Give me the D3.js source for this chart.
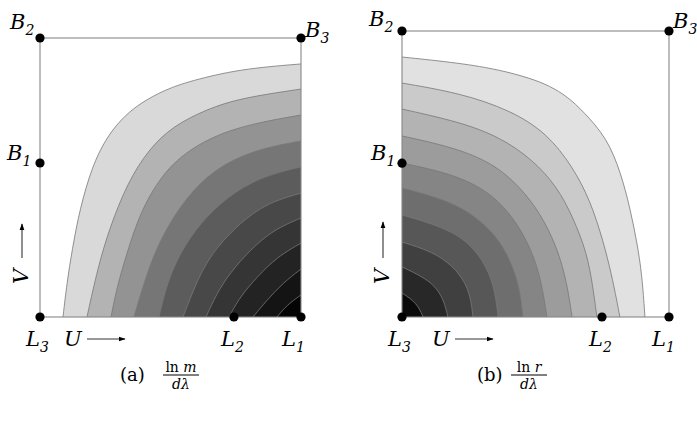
<!DOCTYPE html>
<html>
<head>
<meta charset="utf-8">
<script src="https://cdn.jsdelivr.net/npm/d3@7"></script>
<style>
  body { margin: 0; background: #fff; }
  text { font-family: "DejaVu Serif", "Liberation Serif", serif; }
</style>
</head>
<body>
<svg id="chart" width="697" height="422"></svg>
<script>
// contour lines of panel (a), in U,V units (0..100), from the bottom edge up to the right edge
const contoursA = [
  [[8.8, 0], [10.3, 12], [12.3, 24], [15.3, 39], [20, 54], [25, 63.5], [30.7, 70.6], [38, 76.5], [48, 81.5], [57.5, 84.6], [76.6, 88.9], [100, 90.7]],
  [[18, 0], [22.2, 17.9], [26.8, 32.3], [33.5, 48], [41.5, 60], [51, 68.5], [64, 74.5], [77, 78.5], [100, 81.7]],
  [[27.2, 0], [29.5, 10.8], [33.3, 22.9], [38.3, 37.3], [46, 50.2], [56.3, 59.9], [73.9, 68.1], [100, 72.4]],
  [[36, 0], [42.1, 19.4], [48.7, 32.3], [56.3, 43], [66.3, 52.7], [81.6, 59.9], [100, 63.1]],
  [[45.6, 0], [48.7, 12.2], [53.6, 22.9], [61.3, 33.7], [71.6, 43], [84.3, 50.2], [100, 53.8]],
  [[54.8, 0], [61.3, 15.8], [67.8, 25.1], [76.6, 33.7], [87, 40.9], [100, 44.4]],
  [[63.6, 0], [67.8, 8.6], [72.8, 15.8], [80.5, 24], [89.3, 31.2], [100, 35.5]],
  [[72.4, 0], [76.6, 7.2], [83.1, 14.3], [90.8, 21.5], [100, 26.5]],
  [[81.6, 0], [87, 6.1], [93.1, 12.2], [100, 17.2]],
  [[90.8, 0], [94.6, 4.3], [100, 7.9]],
];
const fillsA = ['#d9d9d9', '#b3b3b3', '#939393', '#767676', '#5c5c5c', '#484848', '#353535', '#232323', '#141414', '#040404'];

// contour lines of panel (b), from the left edge down to the bottom edge
const contoursB = [
  [[0, 90.9], [21.7, 88.8], [36.7, 86.4], [48, 83.5], [55.4, 80.8], [62, 77], [67.8, 72], [76.8, 62.6], [82, 50.3], [85.4, 38.1], [88, 26.2], [89.9, 14.7], [91, 0]],
  [[0, 81.8], [21.7, 78.3], [40.4, 72.4], [54.3, 64.3], [64, 52.4], [70.4, 40.9], [75.3, 26.9], [79, 12.9], [81.6, 0]],
  [[0, 72.7], [21.7, 68.2], [36.7, 62.9], [49.1, 54.9], [58.1, 45.5], [64, 35], [69.3, 22.4], [71.5, 10.5], [73, 0]],
  [[0, 63.3], [19.1, 59.4], [34.1, 53.8], [44.2, 45.5], [51.7, 36.4], [58.1, 24.5], [61.8, 11.9], [63.7, 0]],
  [[0, 53.8], [18, 50.3], [31.8, 44.4], [40.4, 36.4], [46.8, 26.9], [51.7, 15.4], [54.3, 0]],
  [[0, 45.1], [16.9, 40.9], [28.1, 35], [36.7, 26.9], [41.6, 17.5], [44.2, 9.4], [45.3, 0]],
  [[0, 35.7], [15.4, 31.5], [25.5, 25.9], [31.8, 17.5], [34.8, 9.4], [36, 0]],
  [[0, 26.2], [13.1, 22.4], [21.7, 15.4], [25.5, 8.4], [26.6, 0]],
  [[0, 17.5], [10.5, 12.9], [15.4, 7], [17.2, 0]],
  [[0, 8.4], [5.6, 4.9], [7.9, 0]],
];
const fillsB = ['#e1e1e1', '#cacaca', '#b3b3b3', '#9c9c9c', '#858585', '#6e6e6e', '#575757', '#404040', '#282828', '#0a0a0a'];

// marked points on the frame
const pointsA = [
  { name: 'B', sub: '2', u: 0, v: 100 }, { name: 'B', sub: '3', u: 100, v: 100 },
  { name: 'B', sub: '1', u: 0, v: 55.2 }, { name: 'L', sub: '3', u: 0, v: 0 },
  { name: 'L', sub: '2', u: 74.3, v: 0 }, { name: 'L', sub: '1', u: 100, v: 0 },
];
const pointsB = [
  { name: 'B', sub: '2', u: 0, v: 100 }, { name: 'B', sub: '3', u: 100, v: 100 },
  { name: 'B', sub: '1', u: 0, v: 53.8 }, { name: 'L', sub: '3', u: 0, v: 0 },
  { name: 'L', sub: '2', u: 74.9, v: 0 }, { name: 'L', sub: '1', u: 100, v: 0 },
];

const svg = d3.select('#chart');

// arrow head for the U / V arrows
svg.append('defs').append('marker')
  .attr('id', 'arr')
  .attr('viewBox', '0 0 10 10')
  .attr('refX', 9).attr('refY', 5)
  .attr('markerWidth', 7).attr('markerHeight', 7)
  .attr('markerUnits', 'userSpaceOnUse')
  .attr('orient', 'auto')
  .append('path')
  .attr('d', 'M0,1.5L10,5L0,8.5Z')
  .attr('fill', '#000');

function drawPanel(opt) {
  const x = d3.scaleLinear().domain([0, 100]).range([opt.left, opt.right]);
  const y = d3.scaleLinear().domain([0, 100]).range([opt.bottom, opt.top]);
  const g = svg.append('g');

  const line = d3.line()
    .x((d) => x(d[0]))
    .y((d) => y(d[1]))
    .curve(d3.curveBasis);

  // filled bands, outer first
  opt.contours.forEach((c, i) => {
    g.append('path')
      .attr('d', `${line(c)}L${x(opt.corner[0])},${y(opt.corner[1])}Z`)
      .attr('fill', opt.fills[i])
      .attr('stroke', 'none');
  });
  opt.contours.forEach((c) => {
    g.append('path')
      .attr('d', line(c))
      .attr('fill', 'none')
      .attr('stroke', '#777')
      .attr('stroke-width', 0.8);
  });

  // frame
  g.append('rect')
    .attr('x', x(0)).attr('y', y(100))
    .attr('width', x(100) - x(0)).attr('height', y(0) - y(100))
    .attr('fill', 'none')
    .attr('stroke', '#888')
    .attr('stroke-width', 1.1);

  // points + labels
  opt.points.forEach((p, i) => {
    const px = x(p.u);
    const py = y(p.v);
    g.append('circle').attr('cx', px).attr('cy', py).attr('r', 4.6).attr('fill', '#000');
    const off = opt.labelOffsets[i];
    const t = g.append('text')
      .attr('font-style', 'italic')
      .attr('x', px + off[0]).attr('y', py + off[1])
      .attr('font-size', 21)
      .attr('fill', '#000');
    t.append('tspan').text(p.name);
    t.append('tspan').attr('font-size', 14).attr('dy', 6).text(p.sub);
  });

  // U arrow
  g.append('text').attr('font-style', 'italic').attr('font-size', 21)
    .attr('x', opt.uLabel[0]).attr('y', opt.uLabel[1]).text('U');
  g.append('line')
    .attr('x1', opt.uArrow[0]).attr('x2', opt.uArrow[1])
    .attr('y1', opt.uArrow[2]).attr('y2', opt.uArrow[2])
    .attr('stroke', '#333').attr('stroke-width', 1.1)
    .attr('marker-end', 'url(#arr)');

  // V arrow
  g.append('text').attr('font-style', 'italic').attr('font-size', 21)
    .attr('transform', `translate(${opt.vLabel[0]},${opt.vLabel[1]}) rotate(-90)`)
    .text('V');
  g.append('line')
    .attr('x1', opt.vArrow[0]).attr('x2', opt.vArrow[0])
    .attr('y1', opt.vArrow[1]).attr('y2', opt.vArrow[2])
    .attr('stroke', '#333').attr('stroke-width', 1.1)
    .attr('marker-end', 'url(#arr)');

  // caption: (a) ln m / dλ
  const cap = g.append('g');
  cap.append('text').attr('font-size', 18)
    .attr('x', opt.caption[0]).attr('y', opt.caption[1] + 6).text(opt.tag);
  const fx = opt.caption[2];
  const num = cap.append('text').attr('font-size', 14)
    .attr('text-anchor', 'middle').attr('x', fx).attr('y', opt.caption[1] - 3);
  num.append('tspan').text('ln ');
  num.append('tspan').attr('font-style', 'italic').text(opt.numVar);
  cap.append('line')
    .attr('x1', fx - 18).attr('x2', fx + 18)
    .attr('y1', opt.caption[1]).attr('y2', opt.caption[1])
    .attr('stroke', '#000').attr('stroke-width', 1.1);
  cap.append('text').attr('font-size', 14)
    .attr('font-style', 'italic')
    .attr('text-anchor', 'middle').attr('x', fx).attr('y', opt.caption[1] + 14)
    .text('dλ');
}

drawPanel({
  left: 40, right: 301, top: 38, bottom: 317,
  contours: contoursA, fills: fillsA, corner: [100, 0], points: pointsA,
  labelOffsets: [[-30, -9], [4, -1], [-33, -3], [-14, 29], [-13, 29], [-19, 29]],
  uLabel: [64, 346], uArrow: [87, 125, 339],
  vLabel: [28, 284], vArrow: [22, 258, 224],
  caption: [120, 375, 181], tag: '(a)', numVar: 'm',
});

drawPanel({
  left: 402, right: 669, top: 31, bottom: 317,
  contours: contoursB, fills: fillsB, corner: [0, 0], points: pointsB,
  labelOffsets: [[-33, -5], [4, -3], [-31, -3], [-14, 29], [-13, 29], [-17, 29]],
  uLabel: [432, 346], uArrow: [455, 493, 339],
  vLabel: [389, 284], vArrow: [383, 258, 222],
  caption: [477, 375, 529], tag: '(b)', numVar: 'r',
});
</script>
</body>
</html>
